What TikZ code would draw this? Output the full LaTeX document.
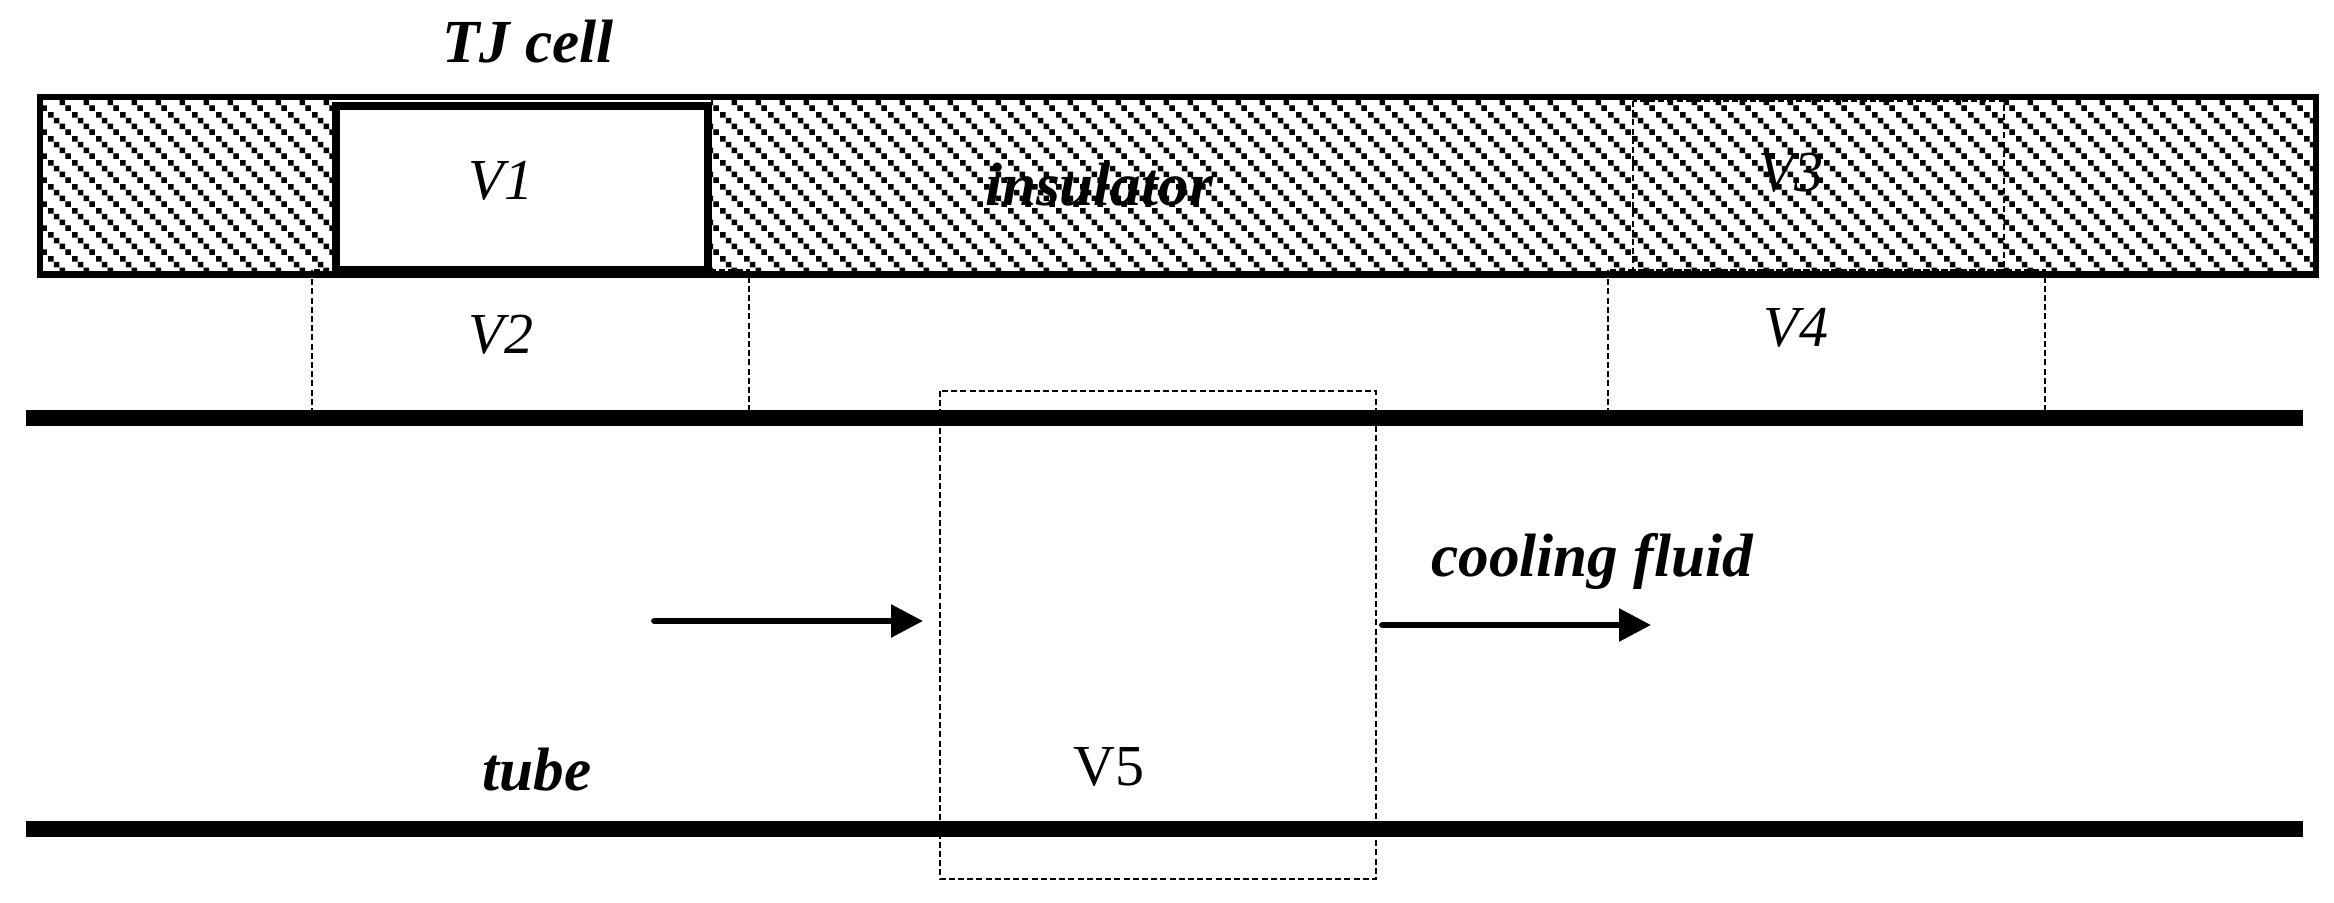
\documentclass[tikz,border=0pt]{standalone}
\usepackage{fontspec}
\setmainfont{Liberation Serif}
\usetikzlibrary{positioning, patterns, arrows.meta}

\pgfdeclarepatternformonly{hatchcell}{\pgfpointorigin}{\pgfqpoint{12pt}{12pt}}{\pgfqpoint{12pt}{12pt}}{
  \pgfpathrectangle{\pgfqpoint{0pt}{9pt}}{\pgfqpoint{2.9pt}{2.9pt}}
  \pgfpathrectangle{\pgfqpoint{3pt}{6pt}}{\pgfqpoint{2.9pt}{2.9pt}}
  \pgfpathrectangle{\pgfqpoint{6pt}{3pt}}{\pgfqpoint{2.9pt}{2.9pt}}
  \pgfpathrectangle{\pgfqpoint{9pt}{0pt}}{\pgfqpoint{2.9pt}{2.9pt}}
  \pgfusepath{fill}
}

\begin{document}
\begin{tikzpicture}[x=0.5pt, y=-0.5pt,
  thinbox/.style={line width=1pt, dash pattern=on 3pt off 1.6pt},
  wall/.style={line width=8pt},
  flow/.style={line width=2.9pt, -{Triangle[length=16pt,width=16pt]}},
  plain label/.style={anchor=base, inner sep=0pt, font=\fontsize{29}{29}\selectfont\itshape},
  bold label/.style={anchor=base, inner sep=0pt, font=\fontsize{30.6}{30.6}\selectfont\bfseries\itshape}]

\useasboundingbox (0,0) rectangle (2334,903);

% insulator with the hatching
\coordinate (insA) at (40,97);
\coordinate (insB) at (2316,274.5);
\fill[white] (insA) rectangle (insB);
\fill[pattern=hatchcell] (insA) rectangle (insB);

% dashed volumes under the walls
\coordinate (v2A) at (312,270);
\coordinate (v2B) at (749,412);
\coordinate (v3A) at (1633,101);
\coordinate (v3B) at (2004,270);
\coordinate (v4A) at (1608,270);
\coordinate (v4B) at (2045,412);
\draw[thinbox] (v2A) rectangle (v2B);
\draw[thinbox] (v3A) rectangle (v3B);
\draw[thinbox] (v4A) rectangle (v4B);

\draw[line width=3.25pt] (insA) rectangle (insB);

% the cell
\coordinate (cellA) at (335.5,106);
\coordinate (cellB) at (707.5,270);
\fill[white] (332,100) rectangle (711,270);
\draw[line width=4pt, fill=white] (cellA) rectangle (cellB);

% tube
\coordinate (wallA) at (26,418);
\coordinate (wallB) at (2303,418);
\coordinate (wallC) at (26,829);
\coordinate (wallD) at (2303,829);
\coordinate (v5A) at (940,391);
\coordinate (v5B) at (1376,879);
\draw[thinbox] (v5A) rectangle (v5B);
\draw[wall] (wallA) -- (wallB);
\draw[wall] (wallC) -- (wallD);

\coordinate (inA) at (654,621);
\coordinate (inB) at (923,621);
\coordinate (outA) at (1382,625);
\coordinate (outB) at (1651,625);
\draw[flow] (inA) -- (inB);
\draw[flow] (outA) -- (outB);
\fill (inA) circle (1.45pt);
\fill (outA) circle (1.45pt);

\node[bold label] (cell) at (528,63) {TJ cell};
\node[bold label] (insulator) at (1099,206) {insulator};
\node[bold label] (fluid) at (1592,576) {cooling fluid};
\node[bold label] (tube) at (537,790) {tube};
\node[plain label] (V1) at (501,200) {V1};
\node[plain label] (V2) at (501,354) {V2};
\node[plain label] (V3) at (1791,192) {V3};
\node[plain label] (V4) at (1796,347) {V4};
\node[plain label, font=\fontsize{29}{29}\selectfont] (V5) at (1109,785) {V5};

\end{tikzpicture}
\end{document}
